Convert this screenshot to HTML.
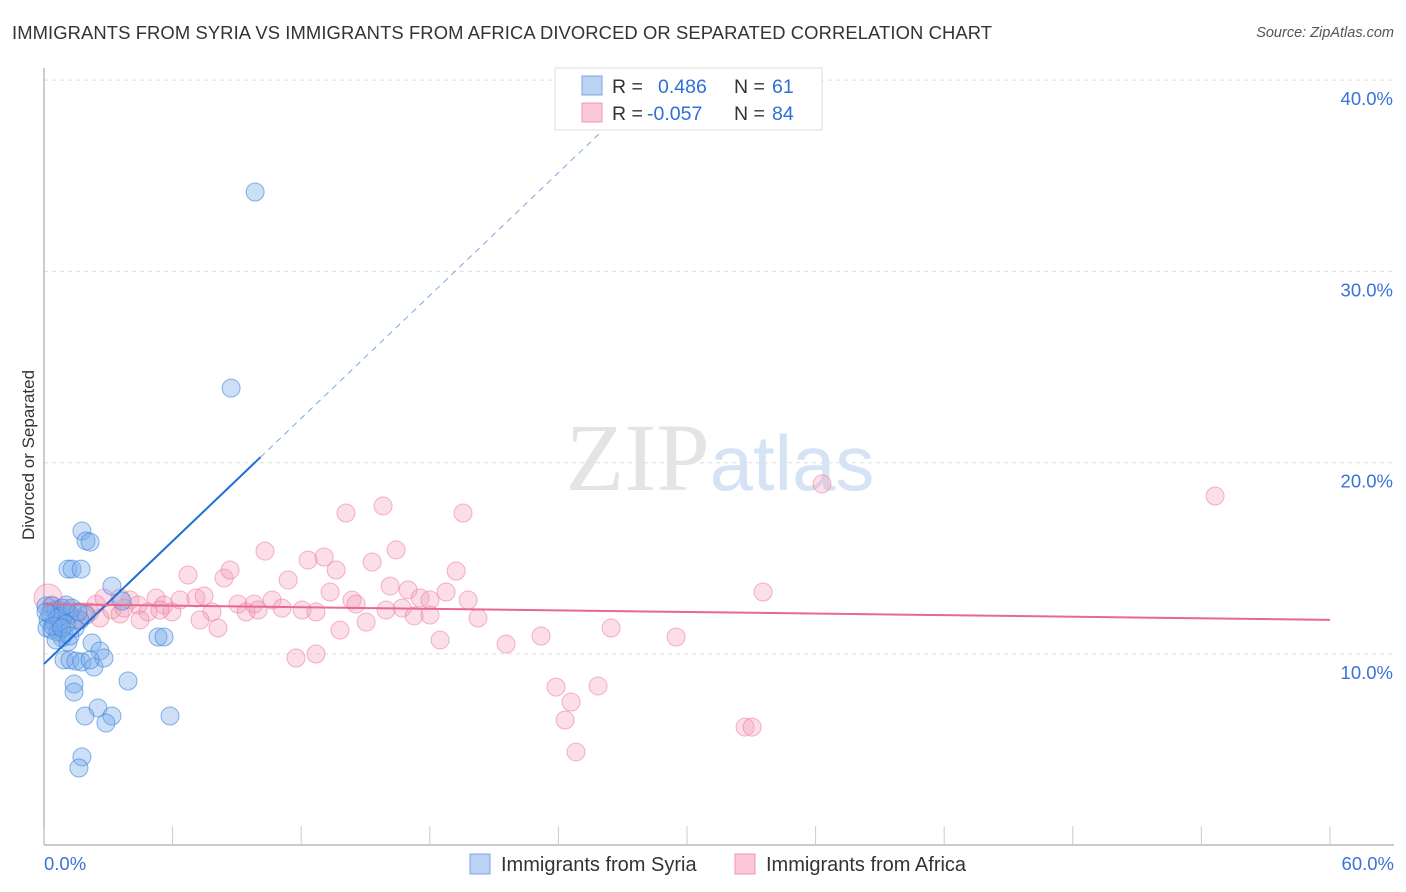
<!DOCTYPE html>
<html><head><meta charset="utf-8">
<style>
body{margin:0;background:#fff;font-family:"Liberation Sans",sans-serif;}
#wrap{position:relative;width:1406px;height:892px;overflow:hidden;}
.title{position:absolute;left:12px;top:22px;font-size:18.4px;color:#333;letter-spacing:0.1px;}
.source{position:absolute;right:12px;top:25px;font-size:14.5px;color:#555;font-style:italic;}
</style></head><body>
<div id="wrap">
<div class="title">IMMIGRANTS FROM SYRIA VS IMMIGRANTS FROM AFRICA DIVORCED OR SEPARATED CORRELATION CHART</div>
<div class="source">Source: ZipAtlas.com</div>
<svg id="svg" width="1406" height="892" style="position:absolute;left:0;top:0"></svg>
</div>
<script>
const syriaX=[9.85,8.73,1.77,1.96,2.15,1.12,1.31,1.73,3.17,3.64,0.09,0.37,0.56,0.84,1.03,1.21,0.19,0.47,0.75,0.14,0.37,0.65,0.93,1.45,1.68,1.96,0.84,0.56,1.12,2.24,5.32,5.60,2.61,0.93,1.21,1.49,1.77,2.33,2.80,1.40,1.40,3.92,2.52,1.91,3.17,2.89,5.88,1.77,1.63,0.75,1.31,1.59,0.28,0.65,1.03,0.09,0.42,0.84,1.21,2.15,1.03];
const syriaY=[34.15,23.90,16.43,15.91,15.85,14.44,14.44,14.44,13.55,12.77,12.51,12.51,12.30,12.40,12.20,12.09,11.78,11.67,11.46,11.36,11.25,11.15,11.05,11.36,11.78,12.04,10.84,10.73,10.63,10.58,10.89,10.89,10.16,9.69,9.69,9.63,9.58,9.32,9.79,8.43,8.01,8.59,7.18,6.76,6.76,6.39,6.76,4.62,4.04,11.99,12.40,12.20,12.09,11.88,11.57,12.20,11.46,11.36,10.94,9.69,12.56];
const africaX=[0.19,0.37,0.75,1.21,1.68,2.15,2.61,3.17,3.55,4.01,4.39,4.85,5.23,5.60,5.97,6.35,6.72,7.09,7.47,7.84,8.12,8.40,8.68,9.05,9.43,9.80,10.31,10.64,11.11,11.39,11.76,12.04,12.32,12.69,13.07,13.35,13.63,13.81,14.09,14.37,14.56,15.03,15.31,15.82,16.15,16.43,16.71,16.99,17.27,17.55,18.01,18.76,19.23,19.55,19.79,20.25,21.56,23.19,23.89,24.31,24.59,24.82,25.85,26.46,29.49,32.71,33.04,33.55,36.30,54.64,1.03,1.40,1.87,2.43,2.80,3.73,4.48,5.41,7.28,9.99,12.69,15.96,18.01,18.48,3.55];
const africaY=[12.93,12.56,12.30,12.04,11.78,12.20,11.88,12.30,12.09,12.82,12.56,12.20,12.93,12.56,12.20,12.82,14.13,12.93,13.03,12.20,11.36,13.97,14.39,12.61,12.20,12.61,15.38,12.82,12.40,13.87,9.79,12.30,14.91,10.00,15.07,13.24,14.39,11.25,17.37,12.82,12.61,11.67,14.81,17.74,13.55,15.44,12.40,13.35,11.99,12.93,12.82,13.24,14.34,17.37,12.82,11.88,10.52,10.94,8.27,6.55,7.49,4.88,8.33,11.36,10.89,6.18,6.18,13.24,18.89,18.26,12.40,11.78,12.20,12.61,12.93,12.40,11.78,12.30,11.78,12.30,12.20,12.30,12.04,10.73,12.93];
const syriaTrend=[9.48,1.07];   // intercept, slope
const africaTrend=[12.61,-0.0138];
const yTicks=[10,20,30,40];
const yTickLabels=["10.0%","20.0%","30.0%","40.0%"];
const xTickVals=[0,6,12,18,24,30,36,42,48,54,60];

const NS="http://www.w3.org/2000/svg";
const svg=document.getElementById('svg');
const X=v=>44+v*21.433;
const Y=v=>654-(v-10)*19.13;
function mk(tag,attrs,parent){const e=document.createElementNS(NS,tag);for(const k in attrs)e.setAttribute(k,attrs[k]);(parent||svg).appendChild(e);return e;}

yTicks.forEach((t,i)=>{
  const g=mk('line',{x1:44,x2:1394,y1:Y(t),y2:Y(t),stroke:'#ddd','stroke-dasharray':'4,4'});
  
  
  const tx=mk('text',{x:1393,y:Y(t)+25,'text-anchor':'end','font-size':18.5,fill:'#3a72d8','font-family':'Liberation Sans, sans-serif'});
  tx.textContent=yTickLabels[i];
  
  
});
const ya=mk('line',{x1:44,x2:44,y1:68,y2:845,stroke:'#bbb','stroke-width':1.5});


const xa=mk('line',{x1:44,x2:1394,y1:845,y2:845,stroke:'#bbb','stroke-width':1.5});


xTickVals.forEach(t=>{
  const l=mk('line',{x1:X(t),x2:X(t),y1:826,y2:845,stroke:'#ccc'});
  
  
});
[[0,'0.0%','start',44],[60,'60.0%','end',1394]].forEach(a=>{
  const t=mk('text',{x:a[3],y:870,'text-anchor':a[2],'font-size':18.5,fill:'#3a72d8','font-family':'Liberation Sans, sans-serif'});
  t.textContent=a[1];
  
  
});
const yt=mk('text',{x:0,y:0,transform:'translate(34,455) rotate(-90)','text-anchor':'middle','font-size':17,fill:'#333','font-family':'Liberation Sans, sans-serif'});
yt.textContent='Divorced or Separated';


const wm=mk('text',{x:720,y:490,'text-anchor':'middle','font-size':96,fill:'#e4e4e4','font-family':'Liberation Serif, serif'});
wm.innerHTML='ZIP<tspan fill="#d5e3f5" font-family="Liberation Sans, sans-serif" font-size="78">atlas</tspan>';



africaX.forEach((x,i)=>{
  const c=mk('circle',{cx:X(x),cy:Y(africaY[i]),r:i===0?14:9,fill:'rgba(244,160,185,0.35)',stroke:'rgba(236,120,155,0.55)','stroke-width':1});
  
  
});
syriaX.forEach((x,i)=>{
  const c=mk('circle',{cx:X(x),cy:Y(syriaY[i]),r:9,fill:'rgba(120,170,235,0.38)',stroke:'rgba(60,130,220,0.6)','stroke-width':1});
  
  
});
const sy=x=>syriaTrend[0]+syriaTrend[1]*x;
const l1=mk('line',{x1:X(0),y1:Y(sy(0)),x2:X(10.1),y2:Y(sy(10.1)),stroke:'#1f6fd6','stroke-width':2});


const l2=mk('line',{x1:X(10.1),y1:Y(sy(10.1)),x2:X(25.9),y2:Y(sy(25.9)),stroke:'#7aa8e0','stroke-width':1,'stroke-dasharray':'6,5'});


const ay=x=>africaTrend[0]+africaTrend[1]*x;
const l3=mk('line',{x1:X(0),y1:Y(ay(0)),x2:X(60),y2:Y(ay(60)),stroke:'#e8688f','stroke-width':2});



const lg=mk('g',{});


mk('rect',{x:555,y:68,width:267,height:62,fill:'#fff',stroke:'#ddd'},lg);
mk('rect',{x:582,y:76,width:20,height:19,fill:'#b9d3f5',stroke:'#7aa8e0'},lg);
mk('rect',{x:582,y:103,width:20,height:19,fill:'#fbc8d7',stroke:'#ee9ab5'},lg);
[[93,'R = ','0.486','61'],[120,'R = ','-0.057','84']].forEach(r=>{
  const t=mk('text',{x:612,y:r[0],'font-size':19.5,fill:'#333','font-family':'Liberation Sans, sans-serif'},lg);
  t.innerHTML=r[1]+'<tspan fill="#2f6fd6" x="'+(r[2].length>5?647:658)+'">'+r[2]+'</tspan><tspan x="734">N = </tspan><tspan fill="#2f6fd6" x="772">'+r[3]+'</tspan>';
});
[[470,'#b9d3f5','#7aa8e0','Immigrants from Syria','legend-syria'],[735,'#fbc8d7','#ee9ab5','Immigrants from Africa','legend-africa']].forEach(a=>{
  const g=mk('g',{});
  
  
  mk('rect',{x:a[0],y:854,width:20,height:20,fill:a[1],stroke:a[2]},g);
  const t=mk('text',{x:a[0]+31,y:871,'font-size':20,fill:'#333','font-family':'Liberation Sans, sans-serif'},g);
  t.textContent=a[3];
});
</script>
</body></html>
